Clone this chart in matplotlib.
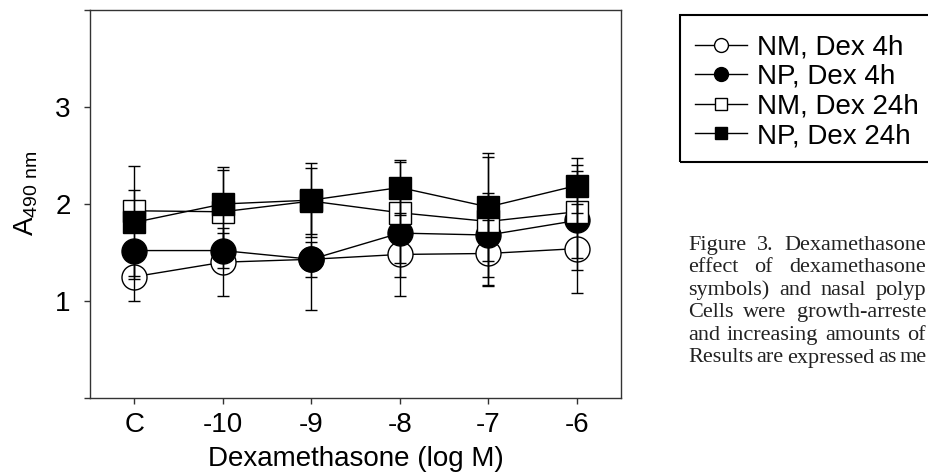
import matplotlib
matplotlib.use('Agg')
import matplotlib.pyplot as plt
from matplotlib.lines import Line2D
from matplotlib.patches import Rectangle

plt.rcParams['font.family'] = ['Liberation Sans', 'DejaVu Sans']
plt.rcParams['mathtext.fontset'] = 'custom'
plt.rcParams['mathtext.rm'] = 'Liberation Sans'

# Datos
categorias = ['C', '-10', '-9', '-8', '-7', '-6']

nm_4h = [1.25, 1.40, 1.43, 1.48, 1.49, 1.54]
nm_4h_err = [0.25, 0.35, 0.18, 0.43, 0.34, 0.46]
np_4h = [1.52, 1.52, 1.43, 1.70, 1.68, 1.83]
np_4h_err = [0.26, 0.18, 0.52, 0.45, 0.43, 0.51]
nm_24h = [1.93, 1.92, 2.03, 1.91, 1.82, 1.92]
nm_24h_err = [0.21, 0.43, 0.34, 0.52, 0.66, 0.48]
np_24h = [1.81, 2.00, 2.04, 2.17, 1.97, 2.19]
np_24h_err = [0.58, 0.385, 0.38, 0.28, 0.56, 0.28]

etiquetas = ['NM, Dex 4h', 'NP, Dex 4h', 'NM, Dex 24h', 'NP, Dex 24h']

leyenda_texto = [
    'Figure 3. Dexamethasone',
    'effect of dexamethasone',
    'symbols) and nasal polyp',
    'Cells were growth-arreste',
    'and increasing amounts of',
    'Results are expressed as me',
]

series = [
    (nm_4h, nm_4h_err, 'o', 'white', 18),
    (np_4h, np_4h_err, 'o', 'black', 18),
    (nm_24h, nm_24h_err, 's', 'white', 16),
    (np_24h, np_24h_err, 's', 'black', 16),
]

W, H = 929, 475
fig = plt.figure(figsize=(W / 100, H / 100), dpi=100)
ax = fig.add_axes([90 / W, 1 - 398 / H, 531 / W, 388 / H])

x = list(range(len(categorias)))
for i, (vals, errs, mk, fc, ms) in enumerate(series):
    ax.plot(x, vals, color='black', lw=1, marker=mk, markersize=ms,
            markerfacecolor=fc, markeredgecolor='black', markeredgewidth=1,
            zorder=3 + i)
    ax.errorbar(x, vals, yerr=errs, fmt='none', ecolor='black', elinewidth=1,
                capsize=4, capthick=1, zorder=8)

ax.set_xlim(-0.5, 5.5)
ax.set_ylim(0, 4)
ax.set_yticks([0, 1, 2, 3, 4])
ax.set_yticklabels(['', '1', '2', '3', ''])
ax.set_xticks(x)
ax.set_xticklabels(categorias)
ax.tick_params(axis='both', direction='out', labelsize=20, length=4, width=1,
               color='#333333')
ax.tick_params(axis='y', pad=10)
ax.tick_params(axis='x', pad=6)
for s in ax.spines.values():
    s.set_color('#333333')
    s.set_linewidth(1)

ax.set_xlabel('Dexamethasone (log M)', fontsize=20, labelpad=6)
fig.text(26 / W, 1 - 193 / H, r'A$_{\mathregular{490\ nm}}$', fontsize=20,
         rotation=90, ha='center', va='center')

# Leyenda (marco dibujado aparte porque sale de la figura)
handles = []
for vals, errs, mk, fc, ms in series:
    handles.append(Line2D([], [], color='black', lw=1, marker=mk,
                          markersize=10 if mk == 'o' else 9,
                          markerfacecolor=fc, markeredgecolor='black'))
leg = fig.legend(handles, etiquetas, loc='upper left',
                 bbox_to_anchor=(680 / W, 1 - 19 / H),
                 bbox_transform=fig.transFigure, fontsize=20, frameon=False,
                 borderaxespad=0, borderpad=0.55,
                 handlelength=1.87, handletextpad=0.36, labelspacing=0.13)
fig.patches.append(Rectangle((680 / W, 1 - 162 / H), 280 / W, 147 / H,
                             transform=fig.transFigure, fill=False,
                             edgecolor='black', linewidth=1.5))

# Texto del pie de figura, justificado
renderer = fig.canvas.get_renderer()
x0, x1 = 688, 926
for k, linea in enumerate(leyenda_texto):
    palabras = linea.split(' ')
    yk = 1 - (245 + 22.6 * k) / H
    textos = []
    anchos = []
    for p in palabras:
        t = fig.text(0, yk, p, fontsize=16, family='Liberation Serif',
                     color='#222222', va='center', ha='left')
        textos.append(t)
        anchos.append(t.get_window_extent(renderer).width)
    hueco = (x1 - x0 - sum(anchos)) / max(len(palabras) - 1, 1)
    hueco = max(hueco, 3.5)
    pos = x0
    for t, a in zip(textos, anchos):
        t.set_x(pos / W)
        pos += a + hueco

fig.savefig('out.png', dpi=100)
